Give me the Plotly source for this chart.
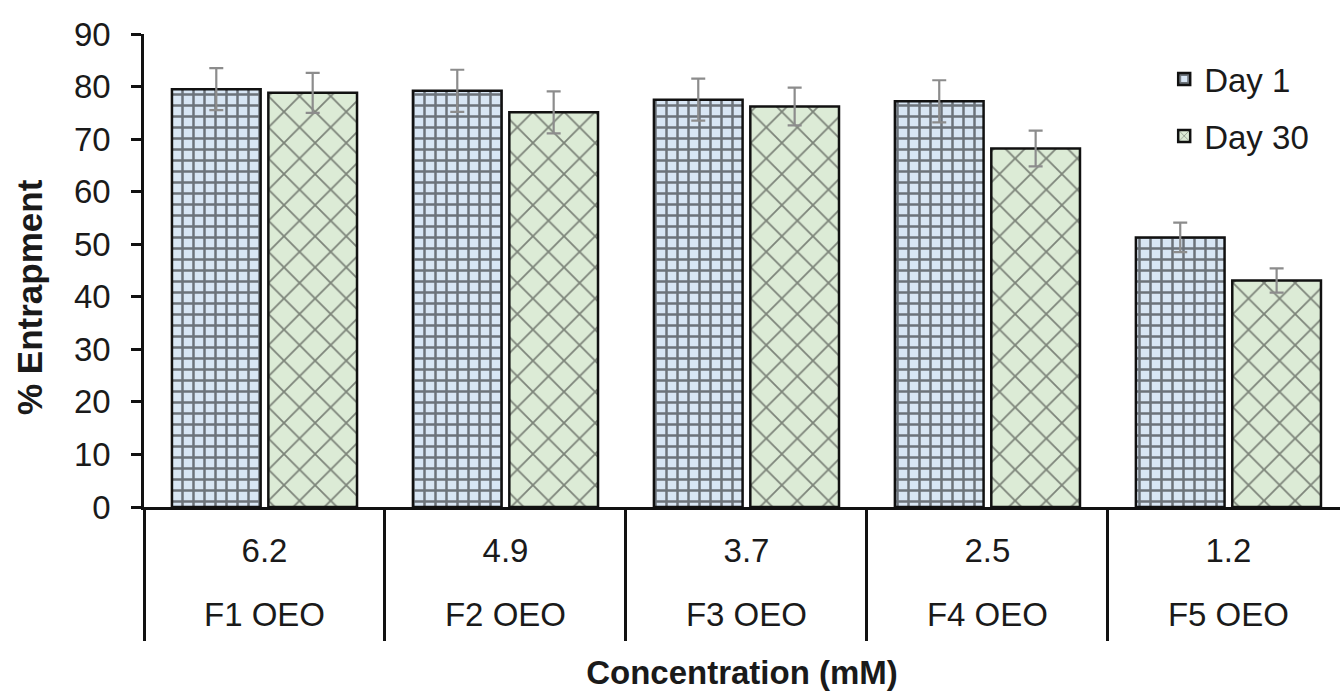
import plotly.graph_objects as go

conc = ["6.2", "4.9", "3.7", "2.5", "1.2"]
forms = ["F1 OEO", "F2 OEO", "F3 OEO", "F4 OEO", "F5 OEO"]
day1 = [79.5, 79.2, 77.5, 77.2, 51.3]
day1_err = [4.0, 4.0, 4.0, 4.0, 2.8]
day30 = [78.8, 75.1, 76.2, 68.2, 43.1]
day30_err = [3.8, 4.0, 3.6, 3.4, 2.3]

font = "Liberation Sans, Arial, sans-serif"
FS = 33
xr = [-0.5, 4.463]

fig = go.Figure()
fig.add_trace(go.Bar(
    name="Day 1", x=conc, y=day1, legendgroup="a",
    error_y=dict(type="data", array=day1_err, color="#8c8c8c", thickness=2.2, width=7),
    marker=dict(color="#d8e6f4", line=dict(color="#111111", width=2.5),
                pattern=dict(shape="+", fgcolor="#000000", bgcolor="#d8e6f4", size=11, solidity=0.4)),
))
fig.add_trace(go.Bar(
    name="Day 30", x=conc, y=day30, legendgroup="b",
    error_y=dict(type="data", array=day30_err, color="#8c8c8c", thickness=2.2, width=7),
    marker=dict(color="#dcebd6", line=dict(color="#111111", width=2.5),
                pattern=dict(shape="x", fgcolor="#1e1e1e", bgcolor="#dcebd6", size=22, solidity=0.16)),
))
# carrier for the second label row (formulation names); invisible
fig.add_trace(go.Scatter(
    x=forms, y=[0] * len(forms), xaxis="x2", mode="markers",
    marker=dict(opacity=0), showlegend=False, hoverinfo="skip",
))

fig.update_layout(
    width=1340, height=691,
    margin=dict(l=144, r=0, t=34, b=184),
    paper_bgcolor="white", plot_bgcolor="white",
    barmode="group", bargap=0.2, bargroupgap=0.08,
    font=dict(family=font, size=FS, color="#1a1a1a"),
    showlegend=True,
    legend=dict(x=0.853, y=0.964, xanchor="left", yanchor="top",
                bgcolor="rgba(0,0,0,0)", font=dict(size=FS), tracegroupgap=11,
                itemwidth=30),
    xaxis=dict(
        type="category", range=xr, showgrid=False,
        showline=True, linecolor="#111111", linewidth=2.5,
        ticks="", ticklabelstandoff=13, tickfont=dict(size=FS),
        title=dict(text="<b>Concentration (mM)</b>", font=dict(size=FS), standoff=94),
    ),
    xaxis2=dict(
        type="category", overlaying="x", anchor="y", side="bottom", range=xr,
        showgrid=False, showline=False, zeroline=False,
        tickson="boundaries", ticks="outside", ticklen=133, tickwidth=2.5, tickcolor="#111111",
        ticklabelstandoff=85, tickfont=dict(size=FS),
    ),
    yaxis=dict(
        range=[0, 90], dtick=10, showgrid=False, zeroline=False,
        showline=True, linecolor="#111111", linewidth=2.5,
        ticks="outside", ticklen=10, tickwidth=2.5, tickcolor="#111111",
        ticklabelstandoff=14, tickfont=dict(size=FS),
    ),
    annotations=[dict(
        text="<b>% Entrapment</b>", textangle=-90, xref="paper", yref="paper",
        x=-0.0953, y=0.444, xanchor="center", yanchor="middle", showarrow=False,
        font=dict(size=35, color="#1a1a1a"),
    )],
)

fig.write_html("out.html")
